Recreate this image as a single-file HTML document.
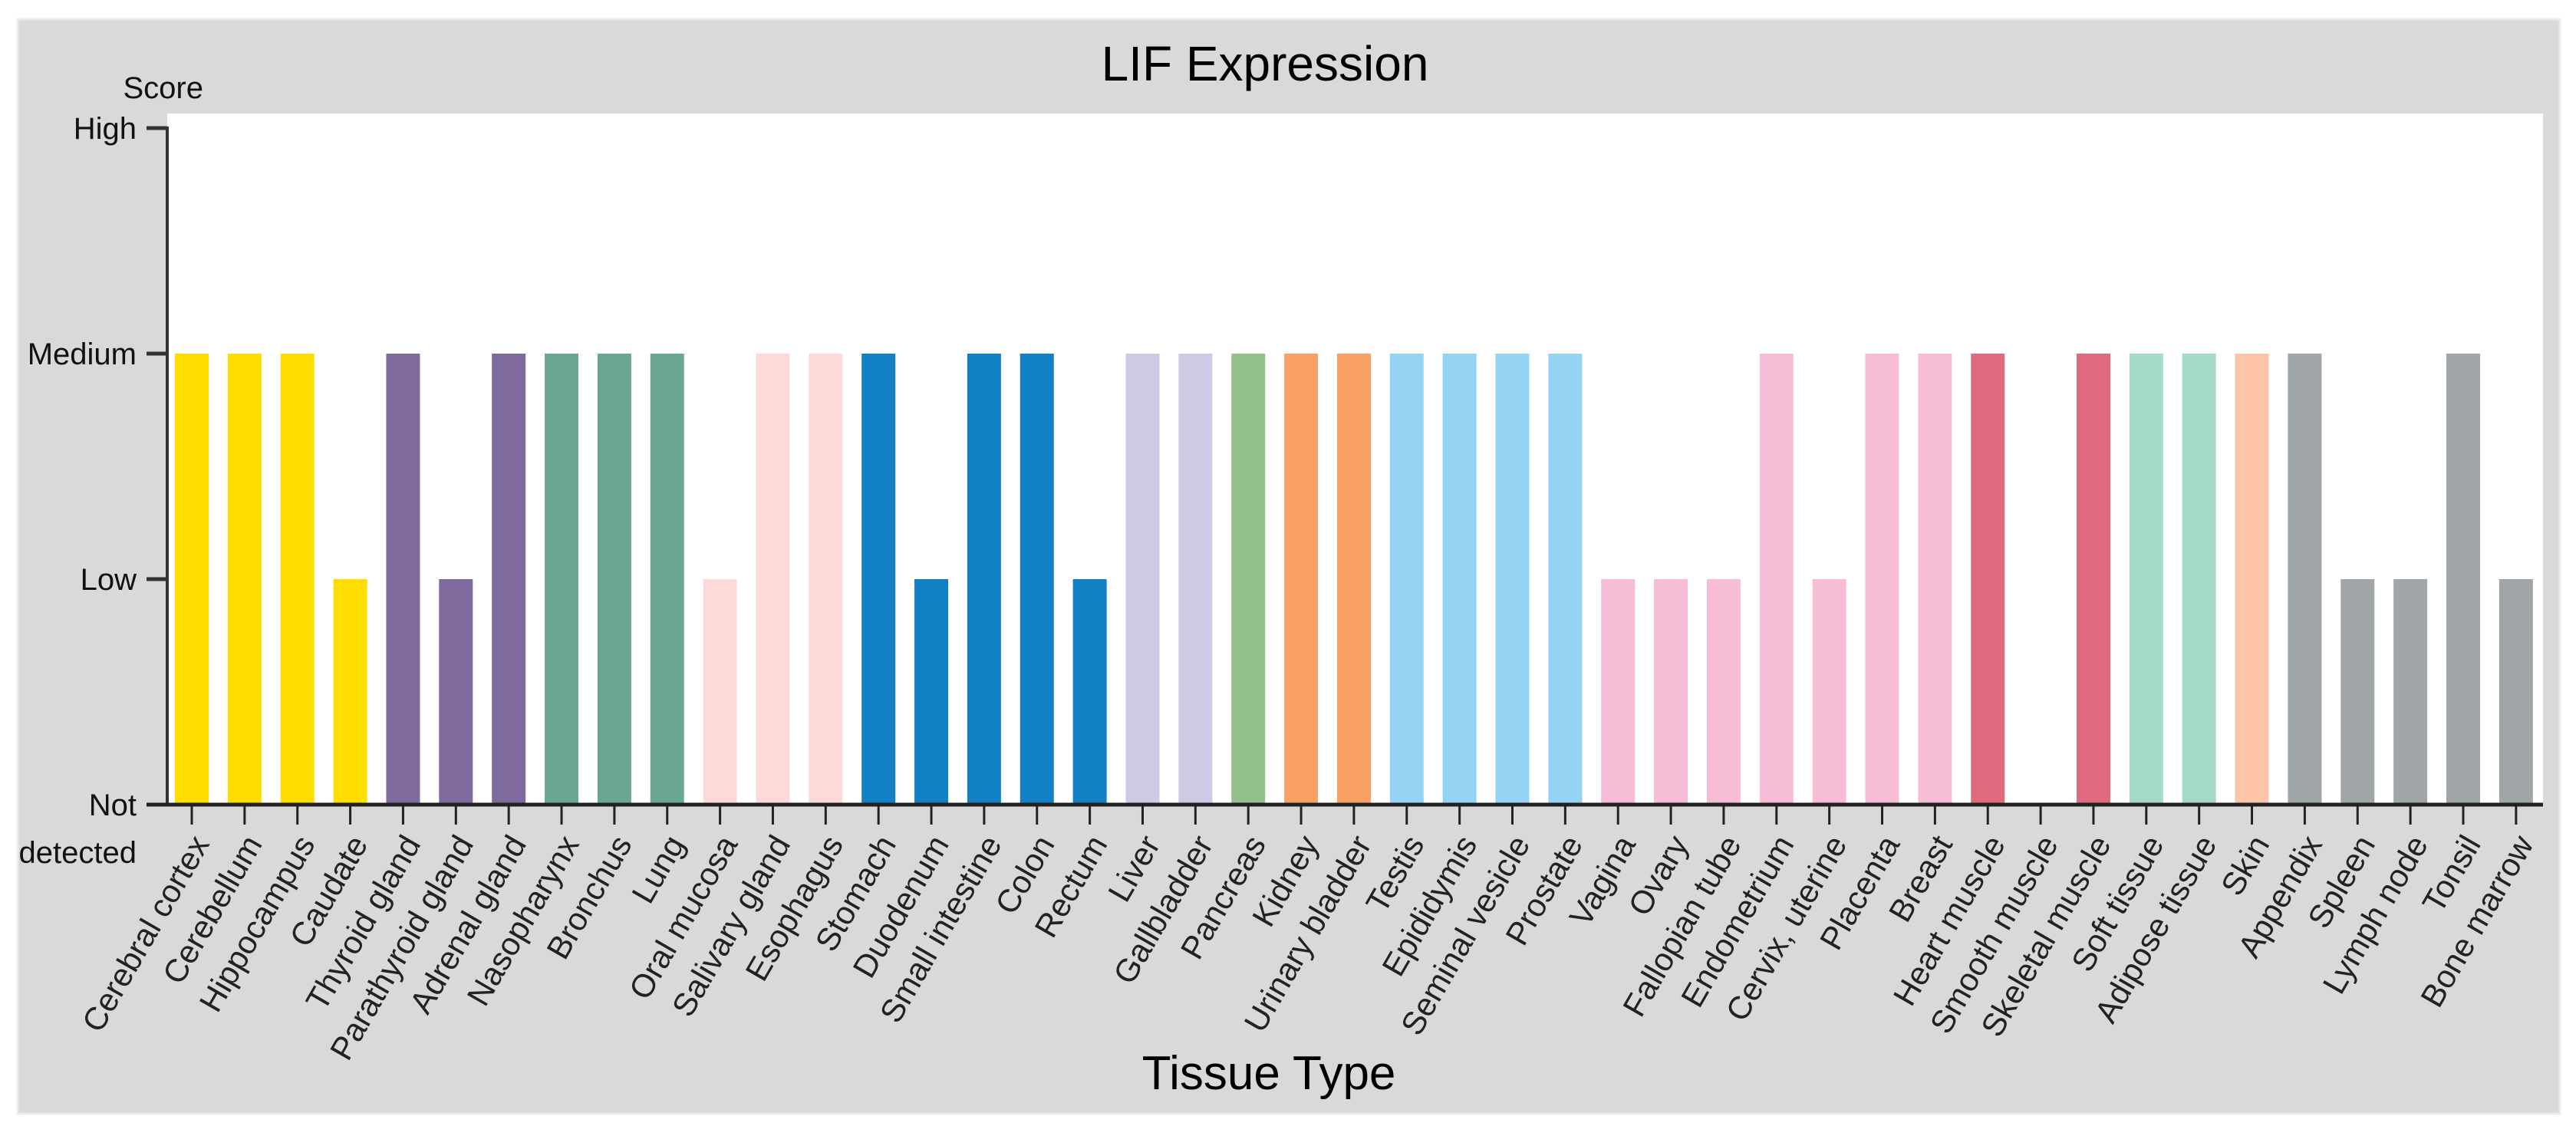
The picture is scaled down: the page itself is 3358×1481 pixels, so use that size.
<!DOCTYPE html>
<html><head><meta charset="utf-8">
<style>
html,body{margin:0;padding:0;background:#fff;}
svg{display:block;font-family:"Liberation Sans",Arial,sans-serif;}
</style></head>
<body>
<svg id="chart" width="3358" height="1481" viewBox="0 0 3358 1481">
  <rect x="23" y="25" width="3314" height="1427" fill="#d9d9d9" stroke="#ececec" stroke-width="3"/>
  <rect x="218" y="148" width="3097" height="901" fill="#ffffff"/>
  <text x="1649" y="105" font-size="64" text-anchor="middle" fill="#000">LIF Expression</text>
  <text x="265" y="128" font-size="40" text-anchor="end" fill="#111">Score</text>
  <text x="1654" y="1420" font-size="62" text-anchor="middle" fill="#000">Tissue Type</text>
  <g id="bars"></g>
  <g id="yaxis"></g>
  <g id="xaxis"></g>
</svg>
<script>
const tissues = ["Cerebral cortex","Cerebellum","Hippocampus","Caudate","Thyroid gland","Parathyroid gland","Adrenal gland","Nasopharynx","Bronchus","Lung","Oral mucosa","Salivary gland","Esophagus","Stomach","Duodenum","Small intestine","Colon","Rectum","Liver","Gallbladder","Pancreas","Kidney","Urinary bladder","Testis","Epididymis","Seminal vesicle","Prostate","Vagina","Ovary","Fallopian tube","Endometrium","Cervix, uterine","Placenta","Breast","Heart muscle","Smooth muscle","Skeletal muscle","Soft tissue","Adipose tissue","Skin","Appendix","Spleen","Lymph node","Tonsil","Bone marrow"];
const scores = [2,2,2,1,2,1,2,2,2,2,1,2,2,2,1,2,2,1,2,2,2,2,2,2,2,2,2,1,1,1,2,1,2,2,2,0,2,2,2,2,2,1,1,2,1];
const colors = ["#FFDD00","#FFDD00","#FFDD00","#FFDD00","#7E6A9C","#7E6A9C","#7E6A9C","#6AA692","#6AA692","#6AA692","#FCDADA","#FCDADA","#FCDADA","#1280C4","#1280C4","#1280C4","#1280C4","#1280C4","#D0C9E5","#D0C9E5","#94C08A","#F8A065","#F8A065","#95D3F4","#95D3F4","#95D3F4","#95D3F4","#F7BCD6","#F7BCD6","#F7BCD6","#F7BCD6","#F7BCD6","#F7BCD6","#F7BCD6","#DF6A7D","#DF6A7D","#DF6A7D","#A5DACA","#A5DACA","#FCC5AA","#A0A6A8","#A0A6A8","#A0A6A8","#A0A6A8","#A0A6A8"];
const levelValues = [0,1,2,3];
const levelLabels = ["Not","Low","Medium","High"];

const NS = "http://www.w3.org/2000/svg";
const x0 = 250, step = 68.86, barW = 44;
const yBase = 1049, yStep = 294;
function xPos(i){ return x0 + i*step; }
function yPos(v){ return yBase - v*yStep; }
function mk(tag, attrs, parent){
  const e = document.createElementNS(NS, tag);
  for (const k in attrs) e.setAttribute(k, attrs[k]);
  parent.appendChild(e);
  return e;
}
const gb = document.getElementById('bars');
const gx = document.getElementById('xaxis');
const gy = document.getElementById('yaxis');

tissues.forEach((t, i) => {
  const v = scores[i];
  if (v > 0) {
    const r = mk('rect', {x: xPos(i) - barW/2, y: yPos(v), width: barW, height: yBase - yPos(v), fill: colors[i]}, gb);
    
    
  }
  const tk = mk('line', {x1: xPos(i), x2: xPos(i), y1: yBase, y2: 1075, stroke: '#222', 'stroke-width': 3}, gx);
  
  
  const tx = mk('text', {'font-size': 42, 'text-anchor': 'end', fill: '#222',
    transform: 'translate(' + (xPos(i) + 24) + ',1100) rotate(-60)'}, gx);
  tx.textContent = t;
  
  
});

const xl = mk('line', {x1: 191, x2: 3315, y1: yBase, y2: yBase, stroke: '#222', 'stroke-width': 5}, gx);


const yl = mk('line', {x1: 218, x2: 218, y1: yPos(3) - 2, y2: yBase, stroke: '#333', 'stroke-width': 4}, gy);



levelValues.forEach((v, k) => {
  const y = yPos(v);
  const tk = mk('line', {x1: 191, x2: 218, y1: y, y2: y, stroke: '#333', 'stroke-width': 5}, gy);
  
  
  const tx = mk('text', {x: 178, y: y + 14, 'font-size': 40, 'text-anchor': 'end', fill: '#111'}, gy);
  tx.textContent = levelLabels[k];
  
  
});
const det = mk('text', {x: 178, y: 1125, 'font-size': 40, 'text-anchor': 'end', fill: '#111'}, gy);
det.textContent = "detected";


</script>
</body></html>
